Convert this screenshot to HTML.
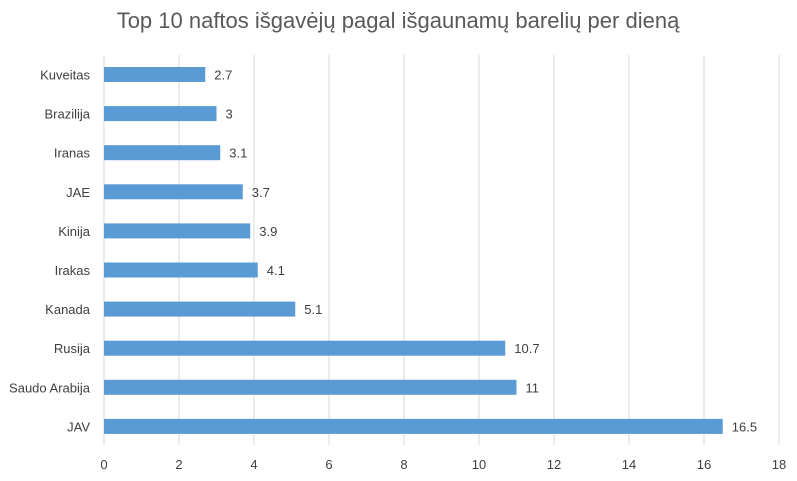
<!DOCTYPE html>
<html><head><meta charset="utf-8"><style>
body{margin:0;background:#fff;font-family:"Liberation Sans",sans-serif;}
svg text{font-family:"Liberation Sans",sans-serif;fill:#404040;}
</style></head><body>
<svg width="797" height="476">
<text x="398" y="28" text-anchor="middle" font-size="22" style="fill:#595959">Top 10 naftos išgavėjų pagal išgaunamų barelių per dieną</text>
<g id="grid"></g><g id="bars"></g><g id="labels"></g>
</svg>
<script>
const categories=["Kuveitas","Brazilija","Iranas","JAE","Kinija","Irakas","Kanada","Rusija","Saudo Arabija","JAV"];
const values=[2.7,3,3.1,3.7,3.9,4.1,5.1,10.7,11,16.5];
const ticks=[0,2,4,6,8,10,12,14,16,18];
const NS="http://www.w3.org/2000/svg";
const x0=104,pxPer=37.5,yTop=55,step=39.1,barH=15;
const xs=v=>x0+v*pxPer;
const yc=i=>yTop+19.5+i*step;
function mk(t,a,p){const e=document.createElementNS(NS,t);for(const k in a)e.setAttribute(k,a[k]);p.appendChild(e);return e;}
const g=document.getElementById('grid'),b=document.getElementById('bars'),l=document.getElementById('labels');
ticks.forEach(t=>{
 const ln=mk('line',{x1:xs(t),x2:xs(t),y1:yTop,y2:445,stroke:'#d9d9d9','stroke-width':1},g);
 
 
 const tx=mk('text',{x:xs(t),y:469,'text-anchor':'middle','font-size':13},l);
 tx.textContent=t;
 
 
});
categories.forEach((c,i)=>{
 const r=mk('rect',{x:x0,y:yc(i)-barH/2,width:xs(values[i])-x0,height:barH,fill:'#5b9bd5'},b);
 
 
 const cl=mk('text',{x:90,y:yc(i)+5,'text-anchor':'end','font-size':13},l);
 cl.textContent=c;
 
 
 const vl=mk('text',{x:xs(values[i])+9,y:yc(i)+5,'font-size':13},l);
 vl.textContent=values[i];
 
 
});
</script>
</body></html>
